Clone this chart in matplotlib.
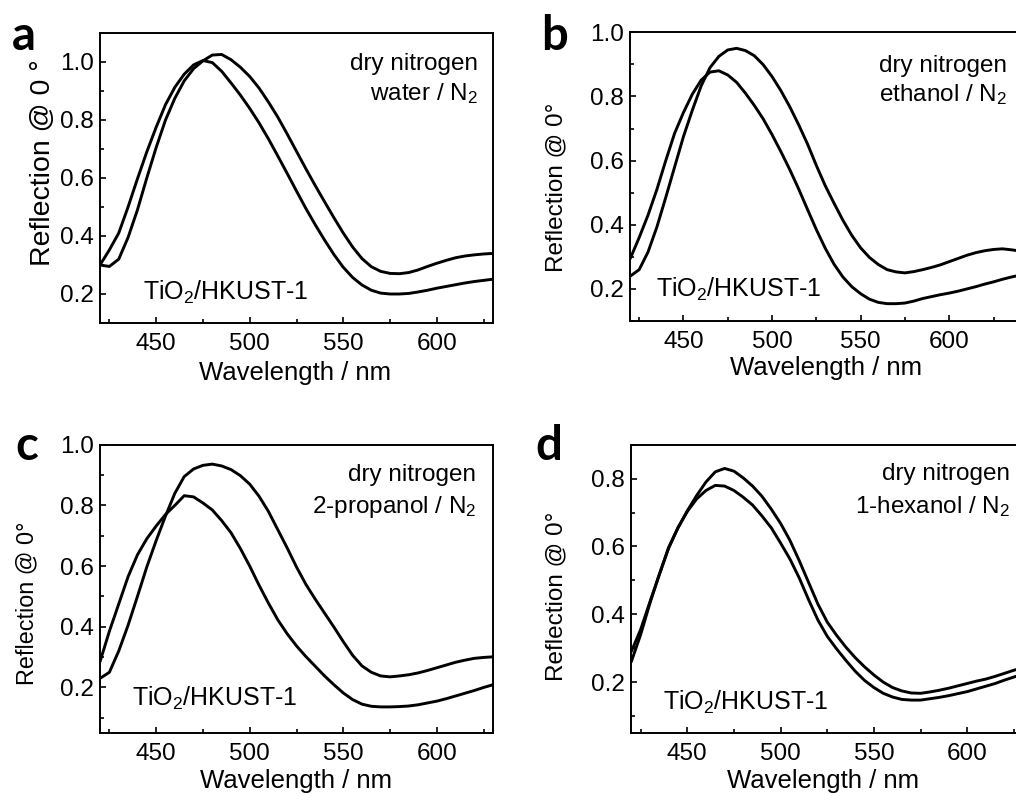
import matplotlib
matplotlib.use("Agg")
import matplotlib.pyplot as plt
from matplotlib.ticker import MultipleLocator, FormatStrFormatter

plt.rcParams.update({
    "font.family": ["Liberation Sans", "DejaVu Sans"],
    "mathtext.fontset": "custom",
    "mathtext.rm": "Liberation Sans",
    "mathtext.it": "Liberation Sans:italic",
    "mathtext.bf": "Liberation Sans:bold",
    "mathtext.default": "regular",
})

# ---------------- data ----------------
WL = [420, 425, 430, 435, 440, 445, 450, 455, 460, 465, 470, 475, 480, 485,
      490, 495, 500, 505, 510, 515, 520, 525, 530, 535, 540, 545, 550, 555,
      560, 565, 570, 575, 580, 585, 590, 595, 600, 605, 610, 615, 620, 625, 630]
WL_B = WL + [635, 640]

# panel a : water / N2
A_DRY = [0.30, 0.352, 0.41, 0.50, 0.597, 0.69, 0.775, 0.853, 0.913, 0.958, 0.99, 1.005,
         0.998, 0.968, 0.928, 0.886, 0.84, 0.79, 0.735, 0.676, 0.616, 0.555, 0.495,
         0.439, 0.386, 0.336, 0.292, 0.257, 0.231, 0.213, 0.203, 0.2, 0.2, 0.202,
         0.207, 0.213, 0.22, 0.226, 0.232, 0.238, 0.243, 0.247, 0.251]
A_WET = [0.30, 0.295, 0.32, 0.395, 0.49, 0.60, 0.705, 0.80, 0.875, 0.935, 0.977, 1.004,
         1.024, 1.026, 1.008, 0.982, 0.95, 0.91, 0.862, 0.81, 0.752, 0.692, 0.632,
         0.574, 0.518, 0.463, 0.41, 0.362, 0.322, 0.294, 0.278, 0.271, 0.27, 0.274,
         0.283, 0.295, 0.306, 0.316, 0.325, 0.331, 0.335, 0.338, 0.34]

# panel b : ethanol / N2
B_DRY = [0.295, 0.36, 0.43, 0.51, 0.60, 0.685, 0.75, 0.807, 0.851, 0.876, 0.88, 0.867,
         0.844, 0.81, 0.772, 0.73, 0.681, 0.628, 0.572, 0.512, 0.448, 0.385, 0.327,
         0.277, 0.237, 0.207, 0.185, 0.168, 0.158, 0.154, 0.154, 0.156, 0.162,
         0.17, 0.176, 0.182, 0.187, 0.193, 0.2, 0.207, 0.215, 0.222, 0.23, 0.237, 0.243]
B_WET = [0.24, 0.26, 0.315, 0.393, 0.485, 0.58, 0.675, 0.757, 0.833, 0.89, 0.925, 0.945,
         0.95, 0.943, 0.927, 0.899, 0.862, 0.818, 0.768, 0.712, 0.652, 0.585, 0.522,
         0.467, 0.414, 0.367, 0.328, 0.298, 0.276, 0.26, 0.253, 0.25, 0.254, 0.26,
         0.267, 0.275, 0.285, 0.295, 0.305, 0.313, 0.319, 0.323, 0.325, 0.322, 0.318]

# panel c : 2-propanol / N2
C_DRY = [0.285, 0.385, 0.475, 0.565, 0.637, 0.69, 0.732, 0.77, 0.80, 0.832, 0.828, 0.808,
         0.785, 0.75, 0.71, 0.658, 0.60, 0.537, 0.478, 0.423, 0.377, 0.337, 0.302,
         0.27, 0.238, 0.209, 0.182, 0.16, 0.145, 0.138, 0.136, 0.136, 0.137, 0.139,
         0.143, 0.149, 0.155, 0.163, 0.172, 0.181, 0.19, 0.2, 0.209]
C_WET = [0.23, 0.25, 0.32, 0.405, 0.50, 0.597, 0.684, 0.765, 0.84, 0.895, 0.92, 0.932,
         0.936, 0.93, 0.918, 0.898, 0.87, 0.83, 0.78, 0.72, 0.66, 0.597, 0.54,
         0.491, 0.445, 0.399, 0.351, 0.306, 0.271, 0.25, 0.238, 0.235, 0.238, 0.242,
         0.248, 0.256, 0.265, 0.274, 0.283, 0.29, 0.296, 0.299, 0.301]

# panel d : 1-hexanol / N2
D_DRY = [0.29, 0.355, 0.437, 0.517, 0.597, 0.655, 0.703, 0.74, 0.765, 0.78, 0.778, 0.765,
         0.745, 0.722, 0.69, 0.655, 0.61, 0.563, 0.507, 0.443, 0.383, 0.335, 0.298,
         0.264, 0.232, 0.205, 0.184, 0.167, 0.156, 0.149, 0.147, 0.147, 0.151,
         0.155, 0.16, 0.166, 0.172, 0.18, 0.188, 0.196, 0.206, 0.215, 0.224]
D_WET = [0.26, 0.34, 0.433, 0.517, 0.595, 0.655, 0.705, 0.75, 0.79, 0.82, 0.83, 0.822,
         0.802, 0.778, 0.748, 0.71, 0.668, 0.618, 0.558, 0.494, 0.43, 0.377, 0.338,
         0.303, 0.272, 0.245, 0.221, 0.2, 0.184, 0.174, 0.168, 0.167, 0.171, 0.176,
         0.182, 0.189, 0.196, 0.203, 0.209, 0.217, 0.226, 0.235, 0.243]

LETTERS = ["a", "b", "c", "d"]
VAPOURS = ["water / N$_2$", "ethanol / N$_2$", "2-propanol / N$_2$", "1-hexanol / N$_2$"]
YLABELS = ["Reflection @ 0 °", "Reflection @ 0°", "Reflection @ 0°", "Reflection @ 0°"]
XLABEL = "Wavelength / nm"
SAMPLE = "TiO$_2$/HKUST-1"
DRY_LABEL = "dry nitrogen"

# ---------------- layout ----------------
W, H = 1016, 796
fig = plt.figure(figsize=(W / 100, H / 100), dpi=100)

panels = [
    dict(wl=WL, dry=A_DRY, wet=A_WET, rect=(100, 33, 393, 290), xlim=(420, 630), ylim=(0.1, 1.1),
         ylab=(-0.146, 0.553, 20.5), xlab=(0.496, -0.172), samp=(0.109, 0.079),
         ann=(0.962, 0.872, 0.769), letter=(12, 50)),
    dict(wl=WL_B, dry=B_DRY, wet=B_WET, rect=(630.3, 32.3, 389.8, 288.7), xlim=(420, 640), ylim=(0.1, 1.0),
         ylab=(-0.189, 0.462, 17.5), xlab=(0.503, -0.163), samp=(0.067, 0.084),
         ann=(0.967, 0.864, 0.760), letter=(541, 50)),
    dict(wl=WL, dry=C_DRY, wet=C_WET, rect=(100, 444.7, 393, 288.3), xlim=(420, 630), ylim=(0.05, 1.0),
         ylab=(-0.185, 0.451, 16.8), xlab=(0.498, -0.166), samp=(0.081, 0.093),
         ann=(0.958, 0.873, 0.763), letter=(15, 460)),
    dict(wl=WL, dry=D_DRY, wet=D_WET, rect=(631.3, 444.7, 391.9, 288.3), xlim=(420, 630), ylim=(0.05, 0.9),
         ylab=(-0.19, 0.473, 17.5), xlab=(0.489, -0.166), samp=(0.081, 0.081),
         ann=(0.966, 0.879, 0.763), letter=(535, 460)),
]

for i, p in enumerate(panels):
    x0, y0, w, h = p["rect"]
    ax = fig.add_axes([x0 / W, 1 - (y0 + h) / H, w / W, h / H])
    ax.plot(p["wl"], p["dry"], color="black", lw=2.1, solid_capstyle="round", solid_joinstyle="round")
    ax.plot(p["wl"], p["wet"], color="black", lw=2.1, solid_capstyle="round", solid_joinstyle="round")
    ax.set_xlim(*p["xlim"])
    ax.set_ylim(*p["ylim"])
    ax.xaxis.set_major_locator(MultipleLocator(50))
    ax.xaxis.set_minor_locator(MultipleLocator(25))
    ax.yaxis.set_major_locator(MultipleLocator(0.2))
    ax.yaxis.set_minor_locator(MultipleLocator(0.1))
    ax.yaxis.set_major_formatter(FormatStrFormatter("%.1f"))
    ax.tick_params(which="both", direction="in", top=False, right=False, width=1.2)
    ax.tick_params(which="major", length=4)
    ax.tick_params(which="minor", length=3)
    ax.tick_params(axis="x", which="major", labelsize=17.5, pad=7.5)
    ax.tick_params(axis="y", which="major", labelsize=17.5, pad=4.5)
    for s in ax.spines.values():
        s.set_linewidth(1.4)

    ax.set_xlabel(XLABEL, fontsize=18.5)
    ax.xaxis.label.set_va("center")
    ax.xaxis.set_label_coords(p["xlab"][0], p["xlab"][1])
    ax.set_ylabel(YLABELS[i], fontsize=p["ylab"][2])
    ax.yaxis.label.set_va("center")
    ax.yaxis.set_label_coords(p["ylab"][0], p["ylab"][1])

    ax.text(p["samp"][0], p["samp"][1], SAMPLE, transform=ax.transAxes,
            ha="left", va="baseline", fontsize=18)
    ax.text(p["ann"][0], p["ann"][1], DRY_LABEL, transform=ax.transAxes,
            ha="right", va="baseline", fontsize=17.5)
    ax.text(p["ann"][0], p["ann"][2], VAPOURS[i], transform=ax.transAxes,
            ha="right", va="baseline", fontsize=17.5)

    fig.text(p["letter"][0] / W, 1 - p["letter"][1] / H, LETTERS[i],
             ha="left", va="baseline", fontsize=34, fontweight="bold", family="Lato")

fig.savefig("out.png", dpi=100)
